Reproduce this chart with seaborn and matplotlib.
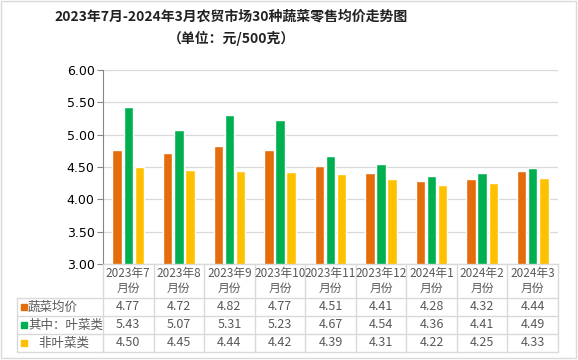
import pandas as pd
import matplotlib.pyplot as plt
import seaborn as sns
from matplotlib.lines import Line2D
from matplotlib.patches import Rectangle

months = ['2023年7\n月份', '2023年8\n月份', '2023年9\n月份', '2023年10\n月份', '2023年11\n月份',
          '2023年12\n月份', '2024年1\n月份', '2024年2\n月份', '2024年3\n月份']
veg_avg = [4.77, 4.72, 4.82, 4.77, 4.51, 4.41, 4.28, 4.32, 4.44]
leafy = [5.43, 5.07, 5.31, 5.23, 4.67, 4.54, 4.36, 4.41, 4.49]
non_leafy = [4.50, 4.45, 4.44, 4.42, 4.39, 4.31, 4.22, 4.25, 4.33]
series_names = ['蔬菜均价', '其中：叶菜类', '非叶菜类']
row_labels = ['蔬菜均价', '其中：叶菜类', '    非叶菜类']
colors = ['#E46C0A', '#00B050', '#FFC000']
yticks = [3.0, 3.5, 4.0, 4.5, 5.0, 5.5, 6.0]

sns.set_style('white')
plt.rcParams['font.family'] = ['Noto Sans CJK SC', 'DejaVu Sans']

W, H = 578, 360
fig = plt.figure(figsize=(W / 100, H / 100), dpi=100)


def fx(px):
    return px / W


def fy(py):
    return 1 - py / H


# plot area in pixels
left, right, top, bottom = 103, 558, 70, 264
ax = fig.add_axes([fx(left), fy(bottom), fx(right - left), (bottom - top) / H])

df = pd.DataFrame({
    'month': months * 3,
    'series': sum([[s] * len(months) for s in series_names], []),
    'value': veg_avg + leafy + non_leafy,
})
sns.barplot(data=df, x='month', y='value', hue='series', palette=colors,
            width=0.66, gap=0.15, legend=False, ax=ax, saturation=1)

ax.set_ylim(3, 6)
ax.set_xlim(-0.5, len(months) - 0.5)
ax.set_yticks(yticks)
ax.set_yticklabels([f'{t:.2f}' for t in yticks], fontsize=9, color='#000000',
                   family='DejaVu Sans')
ax.set_xticks([])
ax.set_xlabel('')
ax.set_ylabel('')
ax.grid(axis='y', color='#D9D9D9', linewidth=0.9)
ax.set_axisbelow(True)
for s in ['top', 'right', 'bottom']:
    ax.spines[s].set_visible(False)
ax.spines['left'].set_color('#868686')
ax.tick_params(axis='y', length=4, color='#868686', left=True, pad=2)

# data table below the axis
grid_c = '#D9D9D9'
text_c = '#595959'
col_w = (right - left) / len(months)
row_y = [264, 298, 316, 334, 352]
table_left = 17


def hline(x0, x1, y):
    fig.add_artist(Line2D([fx(x0), fx(x1)], [fy(y), fy(y)], color=grid_c, lw=1))


def vline(x, y0, y1):
    fig.add_artist(Line2D([fx(x), fx(x)], [fy(y0), fy(y1)], color=grid_c, lw=1))


hline(left, right, row_y[0])
for y in row_y[1:]:
    hline(table_left, right, y)
vline(table_left, row_y[1], row_y[-1])
for i in range(len(months) + 1):
    vline(left + i * col_w, row_y[0], row_y[-1])

for i, m in enumerate(months):
    cx = left + (i + 0.5) * col_w
    fig.text(fx(cx), fy(281), m, ha='center', va='center', fontsize=8.5,
             color=text_c, linespacing=1.1)
    for r, vals in enumerate([veg_avg, leafy, non_leafy]):
        cy = (row_y[r + 1] + row_y[r + 2]) / 2
        fig.text(fx(cx), fy(cy), f'{vals[i]:.2f}', ha='center', va='center',
                 fontsize=9, color=text_c)

for r, lab in enumerate(row_labels):
    cy = (row_y[r + 1] + row_y[r + 2]) / 2
    fig.add_artist(Rectangle((fx(20.5), fy(cy + 3)), fx(6), 6 / H,
                             color=colors[r], transform=fig.transFigure))
    fig.text(fx(28), fy(cy), lab, ha='left', va='center', fontsize=9, color=text_c)

# title
fig.text(fx(231), fy(17), '2023年7月-2024年3月农贸市场30种蔬菜零售均价走势图',
         ha='center', va='center', fontsize=10, fontweight='bold', color='#222222')
fig.text(fx(231), fy(38), '（单位：元/500克）', ha='center', va='center',
         fontsize=10, fontweight='bold', color='#222222')

# outer frame
fig.add_artist(Rectangle((fx(1), fy(358)), fx(575), 357 / H, fill=False,
                         edgecolor='#D9D9D9', lw=1, transform=fig.transFigure))

fig.savefig('out.png', dpi=100)
